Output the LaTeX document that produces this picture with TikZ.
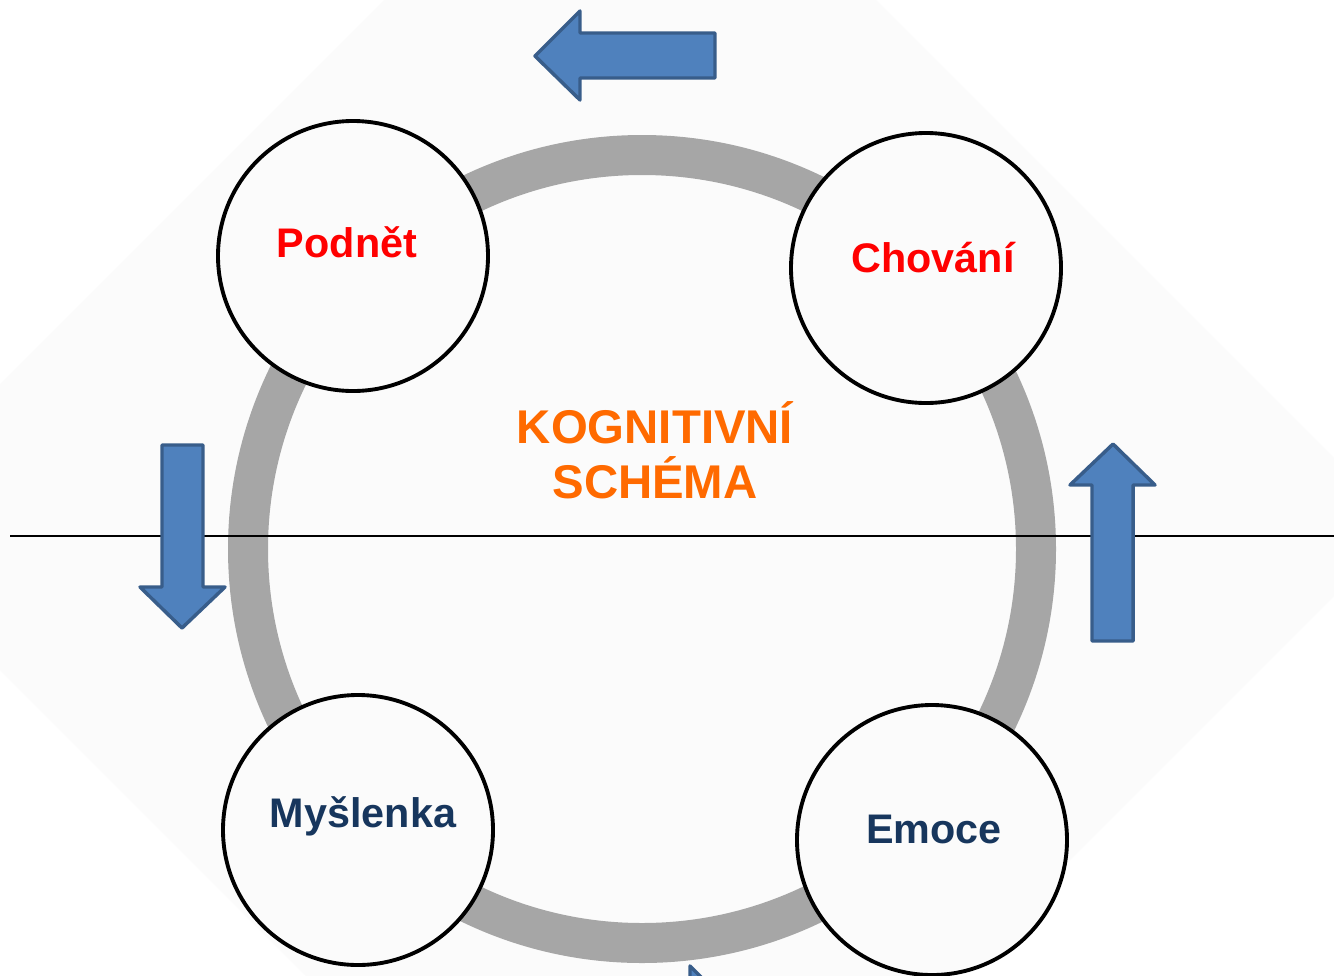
\documentclass[tikz,border=0pt]{standalone}
\usepackage{fontspec}
\setmainfont{Liberation Sans}
\definecolor{arrowfill}{HTML}{4F81BD}
\definecolor{arrowline}{HTML}{385D8A}
\definecolor{ringgray}{HTML}{A6A6A6}
\definecolor{redtxt}{HTML}{FF0000}
\definecolor{orangetxt}{HTML}{FF6A00}
\definecolor{navytxt}{HTML}{17365D}
\definecolor{bgfaint}{HTML}{FBFBFB}
\begin{document}
\begin{tikzpicture}[x=0.75pt,y=-0.75pt,
  circ/.style={circle,draw=black,line width=2.9pt,fill=bgfaint,minimum size=202.5pt,inner sep=0pt},
  blockarrow/.style={fill=arrowfill,draw=arrowline,line width=2.6pt,line join=round},
  lbl/.style={font=\fontsize{31pt}{37pt}\selectfont\bfseries,anchor=base,inner sep=0pt},
  biglbl/.style={font=\fontsize{35.5pt}{40pt}\selectfont\bfseries,anchor=base,inner sep=0pt,text=orangetxt}]
\useasboundingbox (0,0) rectangle (1334,975);
\clip (0,0) rectangle (1334,975);
\fill[white] (0,0) rectangle (1334,975);
\fill[bgfaint] (630,-246) -- (1403,527) -- (630,1300) -- (-143,527) -- cycle;
% ring
\coordinate (ringc) at (642,549);
\draw[ringgray,line width=30pt] (ringc) circle[radius=295.5pt];
% horizontal line
\coordinate (hl) at (10,536);
\coordinate (hr) at (1334,536);
\draw[black,line width=1.1pt] (hl) -- (hr);
% block arrows
\draw[blockarrow] (535,56) -- (580,11) -- (580,33) -- (715,33) -- (715,78) -- (580,78) -- (580,100) -- cycle;
\draw[blockarrow] (162,445) -- (203,445) -- (203,587) -- (225,587) -- (182,628) -- (140,587) -- (162,587) -- cycle;
\draw[blockarrow] (1113,444) -- (1155,485) -- (1133,485) -- (1133,641) -- (1092,641) -- (1092,485) -- (1070,485) -- cycle;
\draw[blockarrow] (690,966) -- (740,1016) -- (690,1066) -- cycle;
% circles
\node[circ] (podnet) at (353,256) {};
\node[circ] (chovani) at (926,268) {};
\node[circ] (myslenka) at (358,830) {};
\node[circ] (emoce) at (932,840) {};
% labels
\node[lbl,text=redtxt] (podnetT) at (347,257) {Podnět};
\node[lbl,text=redtxt] (chovaniT) at (933,272) {Chování};
\node[lbl,text=navytxt] (myslenkaT) at (363,827) {Myšlenka};
\node[lbl,text=navytxt] (emoceT) at (934,843) {Emoce};
\node[biglbl] (kog) at (655,443) {KOGNITIVNÍ};
\node[biglbl] (schema) at (655,498) {SCHÉMA};
\end{tikzpicture}
\end{document}
